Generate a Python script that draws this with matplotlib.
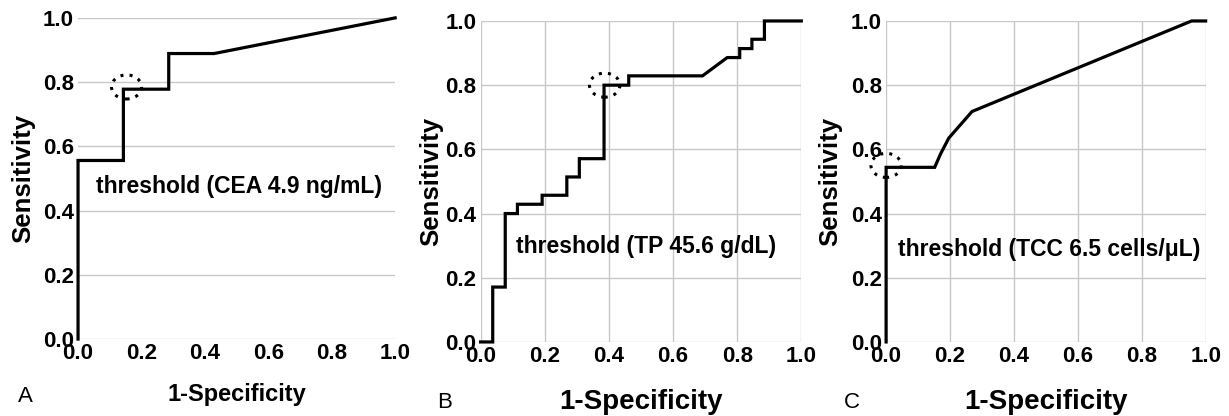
import matplotlib
matplotlib.use("Agg")
import matplotlib.pyplot as plt
from matplotlib.patches import Ellipse

plt.rcParams["font.family"] = ["Liberation Sans", "DejaVu Sans"]

# ROC curve points
cea_fpr = [0.0, 0.0, 0.143, 0.143, 0.286, 0.286, 0.429, 1.0]
cea_tpr = [0.0, 0.556, 0.556, 0.778, 0.778, 0.889, 0.889, 1.0]

tp_fpr = [0.0, 0.038, 0.038, 0.077, 0.077, 0.115, 0.115, 0.192, 0.192, 0.269, 0.269,
          0.308, 0.308, 0.385, 0.385, 0.462, 0.462, 0.692, 0.769, 0.808, 0.808,
          0.846, 0.846, 0.885, 0.885, 1.0]
tp_tpr = [0.0, 0.0, 0.171, 0.171, 0.4, 0.4, 0.429, 0.429, 0.457, 0.457, 0.514,
          0.514, 0.571, 0.571, 0.8, 0.8, 0.829, 0.829, 0.886, 0.886, 0.914,
          0.914, 0.943, 0.943, 1.0, 1.0]

tcc_fpr = [0.0, 0.0, 0.152, 0.17, 0.196, 0.269, 0.956, 1.0]
tcc_tpr = [0.0, 0.544, 0.544, 0.585, 0.635, 0.718, 1.0, 1.0]

thresholds = [(0.153, 0.785), (0.387, 0.8), (0.0, 0.55)]
notes = ["threshold (CEA 4.9 ng/mL)", "threshold (TP 45.6 g/dL)",
         "threshold (TCC 6.5 cells/\u03bcL)"]
note_pos = [(0.058, 0.476), (0.109, 0.297), (0.0375, 0.287)]
letters = ["A", "B", "C"]
ticks = [0.0, 0.2, 0.4, 0.6, 0.8, 1.0]

fig = plt.figure(figsize=(12.29, 4.16), dpi=100)
rects = [[0.0635, 0.185, 0.258, 0.772],
         [0.391, 0.178, 0.261, 0.7716],
         [0.721, 0.178, 0.260, 0.7716]]
curves = [(cea_fpr, cea_tpr), (tp_fpr, tp_tpr), (tcc_fpr, tcc_tpr)]
xlab_size = [17, 20, 20]
xlab_y = [-0.174, -0.187, -0.187]
ylab_x = [-0.1735, -0.153, -0.175]
letter_xy = [(25, 397), (445, 403), (852, 403)]

for i, rect in enumerate(rects):
    ax = fig.add_axes(rect)
    x, y = curves[i]
    ax.plot(x, y, color="black", lw=2.3, solid_joinstyle="miter", zorder=3, clip_on=False)
    ax.set_xlim(0, 1)
    ax.set_ylim(0, 1)
    ax.set_xticks(ticks)
    ax.set_yticks(ticks)
    ax.set_xticklabels([f"{t:.1f}" for t in ticks], fontweight="bold", fontsize=16)
    ax.set_yticklabels([f"{t:.1f}" for t in ticks], fontweight="bold", fontsize=16)
    ax.tick_params(length=0, pad=3)
    for s in ax.spines.values():
        s.set_visible(False)
    if i == 0:
        ax.grid(axis="y", color="#c8c8c8", lw=1)
    else:
        ax.grid(color="#c8c8c8", lw=1)
    ax.set_axisbelow(True)
    ax.set_ylabel("Sensitivity", fontweight="bold", fontsize=18.5, va="center")
    ax.yaxis.set_label_coords(ylab_x[i], 0.5)
    ax.set_xlabel("1-Specificity", fontweight="bold", fontsize=xlab_size[i], va="center")
    ax.xaxis.set_label_coords(0.5, xlab_y[i])
    cx, cy = thresholds[i]
    ax.add_patch(Ellipse((cx, cy), 0.095, 0.075, fill=False, ls=(0, (1, 2)), lw=2.2,
                         color="black", zorder=4, clip_on=False))
    ax.text(note_pos[i][0], note_pos[i][1], notes[i], fontweight="bold", fontsize=16.5,
            va="center", ha="left")
    lx, ly = letter_xy[i]
    fig.text(lx / 1229, 1 - ly / 416, letters[i], fontsize=16, ha="center", va="center")

fig.savefig("out.png", dpi=100)
